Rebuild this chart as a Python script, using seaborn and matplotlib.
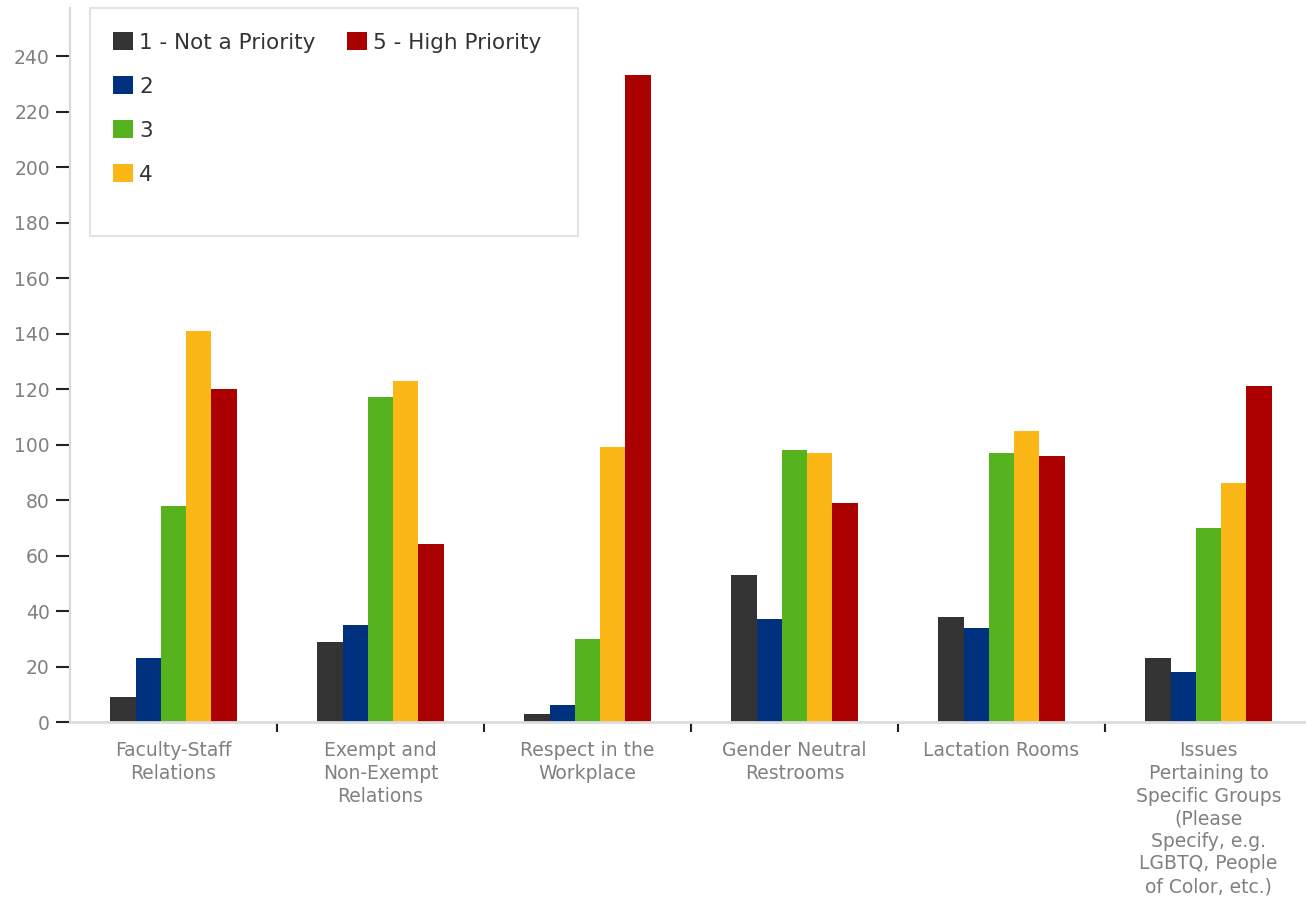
import numpy as np
import pandas as pd
import matplotlib
matplotlib.use("Agg")
import matplotlib.pyplot as plt
from matplotlib.patches import Patch, Rectangle
import seaborn as sns

# Survey topics (x axis)
categories = [
    "Faculty-Staff\nRelations",
    "Exempt and\nNon-Exempt\nRelations",
    "Respect in the\nWorkplace",
    "Gender Neutral\nRestrooms",
    "Lactation Rooms",
    "Issues\nPertaining to\nSpecific Groups\n(Please\nSpecify, e.g.\nLGBTQ, People\nof Color, etc.)",
]

# Priority ratings (legend)
ratings = ["1 - Not a Priority", "2", "3", "4", "5 - High Priority"]

# Response counts per rating, one value per topic
rating_1 = [9, 29, 3, 53, 38, 23]
rating_2 = [23, 35, 6, 37, 34, 18]
rating_3 = [78, 117, 30, 98, 97, 70]
rating_4 = [141, 123, 99, 97, 105, 86]
rating_5 = [120, 64, 233, 79, 96, 121]

colors = ["#333333", "#00317f", "#56b31e", "#fbb716", "#aa0000"]

series = [rating_1, rating_2, rating_3, rating_4, rating_5]
df = pd.DataFrame(
    [
        {"topic": cat, "rating": r, "count": vals[i]}
        for r, vals in zip(ratings, series)
        for i, cat in enumerate(categories)
    ]
)

sns.set_theme(style="white")
plt.rcParams["font.family"] = ["DejaVu Sans"]

W, H = 1306, 905
fig = plt.figure(figsize=(W / 100, H / 100), dpi=100)
ax = fig.add_axes([70 / W, (H - 722) / H, (W - 70) / W, 714 / H])

sns.barplot(
    data=df, x="topic", y="count", hue="rating",
    order=categories, hue_order=ratings, palette=colors,
    width=0.61, gap=0, linewidth=0, saturation=1, legend=False, ax=ax,
)

ax.set_xlim(-0.5, -0.5 + (W - 70) / 207)
ax.set_ylim(0, 257.3)
ax.set_yticks(np.arange(0, 241, 20))
ax.set_xlabel("")
ax.set_ylabel("")

# Spines
for s in ["top", "right"]:
    ax.spines[s].set_visible(False)
ax.spines["left"].set_color("#d8d8d8")
ax.spines["left"].set_linewidth(1.5)
ax.spines["bottom"].set_color("#dcdcdc")
ax.spines["bottom"].set_linewidth(2)

# Tick styling
ax.tick_params(axis="y", which="major", length=10, width=1.5, color="#222222",
               labelcolor="#808080", labelsize=13.5, pad=4.5, left=True)
ax.tick_params(axis="x", which="major", length=0, labelcolor="#808080",
               labelsize=13.5, pad=14)
ax.set_xticks(np.arange(0.5, len(categories) - 0.5, 1), minor=True)
ax.tick_params(axis="x", which="minor", length=7, width=1.5, color="#222222",
               bottom=True)
for lbl in ax.get_xticklabels():
    lbl.set_linespacing(1.24)
    lbl.set_va("top")

# Legend: four rows in the first column, one in the second
blank = Patch(facecolor="none", edgecolor="none")
handles = [Patch(facecolor=c, edgecolor="none") for c in colors]
leg_handles = handles[:4] + [blank] + [handles[4]] + [blank] * 4
leg_labels = ratings[:4] + [""] + [ratings[4]] + [""] * 4
leg = fig.legend(
    leg_handles, leg_labels, ncol=2, loc="upper left",
    bbox_to_anchor=(113 / W, 1 - 32 / H), bbox_transform=fig.transFigure,
    frameon=False, fontsize=15.5, handlelength=0.93, handleheight=0.93,
    handletextpad=0.28, labelspacing=1.09, columnspacing=1.48,
    borderpad=0, borderaxespad=0,
)
for t in leg.get_texts():
    t.set_color("#333333")

fig.patches.append(Rectangle((90 / W, 1 - 236 / H), (578 - 90) / W, (236 - 8) / H,
                             transform=fig.transFigure, facecolor="white",
                             edgecolor="#dddddd", linewidth=1.2, zorder=0))

fig.savefig("out.png", dpi=100)
